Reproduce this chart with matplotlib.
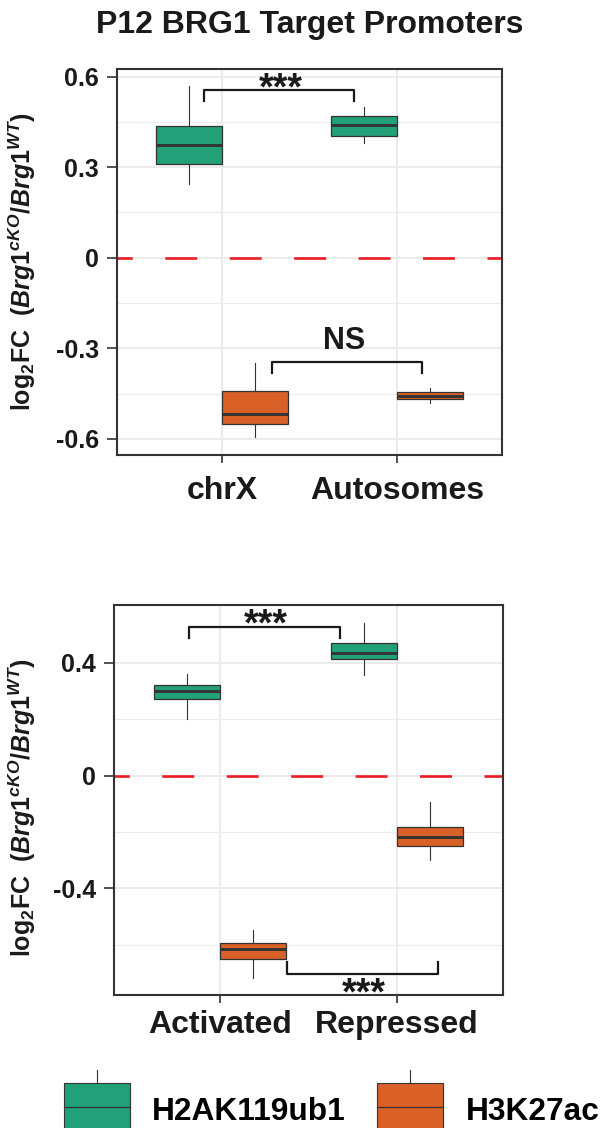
import numpy as np
import matplotlib
matplotlib.use("Agg")
import matplotlib.pyplot as plt
from matplotlib.patches import Rectangle
from matplotlib.lines import Line2D
from matplotlib.legend_handler import HandlerBase
from matplotlib.textpath import TextPath
from matplotlib.font_manager import FontProperties

plt.rcParams['font.family'] = ['Liberation Sans', 'DejaVu Sans']
plt.rcParams['font.weight'] = 'bold'
plt.rcParams['mathtext.fontset'] = 'custom'
plt.rcParams['mathtext.rm'] = 'Liberation Sans:bold'
plt.rcParams['mathtext.bf'] = 'Liberation Sans:bold'
plt.rcParams['mathtext.it'] = 'Liberation Sans:italic:bold'
plt.rcParams['lines.scale_dashes'] = False

# --- data: whislo, q1, median, q3, whishi ---
top_cats = ["chrX", "Autosomes"]
top_h2ak = [[0.243, 0.312, 0.373, 0.436, 0.568],
            [0.381, 0.404, 0.440, 0.471, 0.500]]
top_h3k = [[-0.594, -0.550, -0.516, -0.442, -0.348],
           [-0.480, -0.469, -0.458, -0.445, -0.430]]

bot_cats = ["Activated", "Repressed"]
bot_h2ak = [[0.201, 0.272, 0.301, 0.322, 0.361],
            [0.358, 0.412, 0.435, 0.469, 0.541]]
bot_h3k = [[-0.717, -0.650, -0.616, -0.593, -0.546],
           [-0.301, -0.248, -0.219, -0.183, -0.095]]

series_names = ["H2AK119ub1", "H3K27ac"]
GREEN = "#22A077"
ORANGE = "#D96026"
EDGE = "#333333"
GRID = "#EBEBEB"
INK = "#1a1a1a"

# significance brackets: x0, x1, bar y, tip y, label, label centre x, label centre y, size
top_sig = [(0.897, 1.754, 0.556, 0.518, "***", 1.333, 0.588, 27),
           (1.284, 2.145, -0.344, -0.381, "NS", 1.696, -0.266, 22)]
bot_sig = [(0.826, 1.678, 0.528, 0.487, "***", 1.257, 0.563, 27),
           (1.377, 2.231, -0.703, -0.660, "***", 1.81, -0.745, 27)]

ylab = r'$\mathrm{log_2FC}$  ($\mathit{Brg1^{cKO}/Brg1^{WT}}$)'
bold = FontProperties(family='Liberation Sans', weight='bold')


def panel(ax, cats, green, orange, ylim, yticks, yminor, sigs, xpad):
    pos = np.arange(1, len(cats) + 1)
    for stats, off, col in ((green, -0.1875, GREEN), (orange, 0.1875, ORANGE)):
        st = [dict(whislo=s[0], q1=s[1], med=s[2], q3=s[3], whishi=s[4], fliers=[])
              for s in stats]
        ax.bxp(st, positions=pos + off, widths=0.375, patch_artist=True,
               showcaps=False, showfliers=False, manage_ticks=False,
               boxprops=dict(facecolor=col, edgecolor=EDGE, lw=0.9),
               medianprops=dict(color=EDGE, lw=2.1),
               whiskerprops=dict(color=EDGE, lw=0.8), zorder=3)
    ax.axhline(0, color="#EE1C25", lw=1.9, ls=(12, (23, 23.4)), zorder=2)
    ax.set_xlim(0.4, len(cats) + 0.6)
    ax.set_ylim(*ylim)
    ax.set_xticks(pos)
    ax.set_xticklabels(cats, fontsize=23, fontweight='bold')
    ax.set_yticks(yticks)
    ax.set_yticklabels([("%g" % t) for t in yticks], fontsize=18, fontweight='bold')
    ax.set_yticks(yminor, minor=True)
    ax.grid(which='major', color=GRID, lw=1.5)
    ax.grid(which='minor', axis='y', color=GRID, lw=0.8)
    ax.set_axisbelow(True)
    ax.tick_params(which='minor', length=0)
    ax.tick_params(axis='y', length=7.5, width=1.2, color=EDGE, pad=5.5, labelcolor=INK)
    ax.tick_params(axis='x', length=6, width=1.2, color=EDGE, pad=xpad, labelcolor=INK)
    for sp in ax.spines.values():
        sp.set_color(EDGE)
        sp.set_linewidth(1.5)
    for x0, x1, y, tip, lab, tx, ty, fs in sigs:
        ax.plot([x0, x0, x1, x1], [tip, y, y, tip], color=INK, lw=1.6,
                clip_on=False, zorder=4)
        ext = TextPath((0, 0), lab, size=fs, prop=bold).get_extents()
        ax.annotate(lab, xy=(tx, ty), xytext=(0, -(ext.y0 + ext.y1) / 2),
                    textcoords='offset points', ha='center', va='baseline',
                    fontsize=fs, fontweight='bold', color=INK, annotation_clip=False)


class BoxHandler(HandlerBase):
    # draws a little boxplot key; y = 0 is the text baseline
    def create_artists(self, legend, orig_handle, xdescent, ydescent, width, height,
                       fontsize, trans):
        col = orig_handle.get_facecolor()
        x0 = -xdescent
        lo, hi, top = -0.34 * fontsize, 1.16 * fontsize, 1.57 * fontsize
        r = Rectangle((x0, lo), width, hi - lo, facecolor=col, edgecolor=EDGE, lw=0.8,
                      transform=trans)
        m = Line2D([x0, x0 + width], [(lo + hi) / 2] * 2, color=EDGE, lw=0.9,
                   transform=trans)
        w = Line2D([x0 + width / 2] * 2, [hi, top], color=EDGE, lw=0.8, transform=trans)
        return [r, m, w]


fig = plt.figure(figsize=(6.01, 11.28), dpi=100)
W, H = 601.0, 1128.0

ax1 = fig.add_axes([117 / W, 1 - 455 / H, 385 / W, 386 / H])
panel(ax1, top_cats, top_h2ak, top_h3k, (-0.653, 0.625),
      [-0.6, -0.3, 0, 0.3, 0.6], [-0.45, -0.15, 0.15, 0.45], top_sig, 9)
ax1.text(-0.245, 0.5, ylab, transform=ax1.transAxes, rotation=90, ha='center',
         va='center', fontsize=18, fontweight='bold', color=INK)

ax2 = fig.add_axes([114 / W, 1 - 995 / H, 389 / W, 390 / H])
panel(ax2, bot_cats, bot_h2ak, bot_h3k, (-0.778, 0.605),
      [-0.4, 0, 0.4], [-0.6, -0.2, 0.2], bot_sig, 5)
ax2.text(-0.235, 0.48, ylab, transform=ax2.transAxes, rotation=90, ha='center',
         va='center', fontsize=18, fontweight='bold', color=INK)

fig.text(309.5 / W, 1 - 33 / H, "P12 BRG1 Target Promoters", ha='center',
         va='baseline', fontsize=23, fontweight='bold', color=INK)

handles = [Rectangle((0, 0), 1, 1, facecolor=GREEN), Rectangle((0, 0), 1, 1, facecolor=ORANGE)]
fig.legend(handles, series_names, handler_map={Rectangle: BoxHandler()}, ncol=2,
           loc='lower left', bbox_to_anchor=(64 / W, -1 / H), frameon=False,
           borderpad=0, borderaxespad=0, prop={'weight': 'bold', 'size': 22.8},
           handlelength=2.07, handleheight=1.5, handletextpad=0.72, columnspacing=0.98)

fig.savefig("out.png", dpi=100)
